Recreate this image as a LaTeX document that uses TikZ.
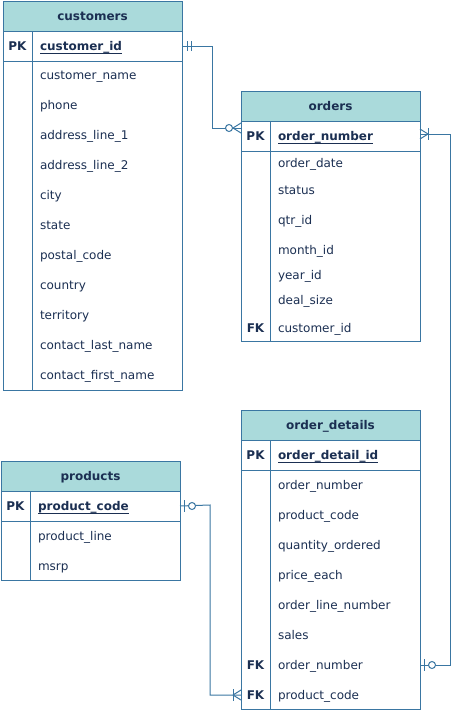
\documentclass[tikz,border=0pt]{standalone}
\usepackage{fontspec}
\setmainfont{DejaVu Sans}
\definecolor{edgeblue}{HTML}{3A76A2}
\definecolor{headfill}{HTML}{AADADB}
\definecolor{ink}{HTML}{1B2F52}
\begin{document}
\begin{tikzpicture}[x=1pt,y=-1pt,
  every node/.style={inner sep=0pt, outer sep=0pt, text=ink},
  headbox/.style={draw=edgeblue, fill=headfill, line width=1pt},
  headtxt/.style={anchor=base, font=\fontsize{12}{14}\selectfont\bfseries},
  rowbox/.style={draw=edgeblue, fill=white, line width=1pt},
  keytxt/.style={anchor=base, font=\fontsize{12}{14}\selectfont\bfseries},
  pktxt/.style={anchor=base west, font=\fontsize{12}{14}\selectfont\bfseries},
  fieldtxt/.style={anchor=base west, font=\fontsize{12}{14}\selectfont},
  keyline/.style={draw=ink, line width=1.1pt},
  divider/.style={draw=edgeblue, line width=1pt},
  link/.style={draw=edgeblue, line width=1pt},
  ringmark/.style={draw=edgeblue, line width=1pt, fill=white}
]
\useasboundingbox (0,0) rectangle (461,712);

% ---------- customers ----------
\node[headbox, minimum width=179pt, minimum height=30pt] (cust-head) at (92.5,16) {};
\node[headtxt] (cust-title) at (92.5,20.3) {customers};
\node[rowbox, minimum width=179pt, minimum height=30pt] (cust-pkrow) at (92.5,46) {};
\node[rowbox, minimum width=179pt, minimum height=329pt] (cust-body) at (92.5,225.5) {};
\draw[divider] (32,31) -- (32,390);
\node[keytxt] (cust-pk) at (17.5,50.3) {PK};
\node[pktxt] (cust-id) at (40,50.3) {customer\_id};
\draw[keyline] ([yshift=-2.8pt]cust-id.base west) -- ([yshift=-2.8pt]cust-id.base east);
\foreach \f/\y [count=\i] in {customer\_name/75, phone/105, address\_line\_1/135,
  address\_line\_2/165, city/195, state/225, postal\_code/255, country/285,
  territory/315, contact\_last\_name/345, contact\_first\_name/375}
  \node[fieldtxt] (cust-f\i) at (40,\y+4.3) {\f};

% ---------- orders ----------
\node[headbox, minimum width=179pt, minimum height=30pt] (ord-head) at (330.5,106) {};
\node[headtxt] (ord-title) at (330.5,110.3) {orders};
\node[rowbox, minimum width=179pt, minimum height=30pt] (ord-pkrow) at (330.5,136) {};
\node[rowbox, minimum width=179pt, minimum height=190pt] (ord-body) at (330.5,246) {};
\draw[divider] (270,121) -- (270,341);
\node[keytxt] (ord-pk) at (255.5,140.3) {PK};
\node[pktxt] (ord-id) at (278,140.3) {order\_number};
\draw[keyline] ([yshift=-2.8pt]ord-id.base west) -- ([yshift=-2.8pt]ord-id.base east);
\foreach \f/\y [count=\i] in {order\_date/163, status/190, qtr\_id/220, month\_id/250,
  year\_id/275, deal\_size/300, customer\_id/328}
  \node[fieldtxt] (ord-f\i) at (278,\y+4.3) {\f};
\node[keytxt] (ord-fk) at (255.5,332.3) {FK};

% ---------- order_details ----------
\node[headbox, minimum width=179pt, minimum height=30pt] (det-head) at (330.5,425) {};
\node[headtxt] (det-title) at (330.5,429.3) {order\_details};
\node[rowbox, minimum width=179pt, minimum height=30pt] (det-pkrow) at (330.5,455) {};
\node[rowbox, minimum width=179pt, minimum height=239pt] (det-body) at (330.5,589.5) {};
\draw[divider] (270,440) -- (270,709);
\node[keytxt] (det-pk) at (255.5,459.3) {PK};
\node[pktxt] (det-id) at (278,459.3) {order\_detail\_id};
\draw[keyline] ([yshift=-2.8pt]det-id.base west) -- ([yshift=-2.8pt]det-id.base east);
\foreach \f/\y [count=\i] in {order\_number/485, product\_code/515, quantity\_ordered/545,
  price\_each/575, order\_line\_number/605, sales/635, order\_number/665, product\_code/695}
  \node[fieldtxt] (det-f\i) at (278,\y+4.3) {\f};
\node[keytxt] (det-fk1) at (255.5,669.3) {FK};
\node[keytxt] (det-fk2) at (255.5,699.3) {FK};

% ---------- products ----------
\node[headbox, minimum width=179pt, minimum height=30pt] (prod-head) at (90.5,476) {};
\node[headtxt] (prod-title) at (90.5,480.3) {products};
\node[rowbox, minimum width=179pt, minimum height=30pt] (prod-pkrow) at (90.5,506) {};
\node[rowbox, minimum width=179pt, minimum height=59pt] (prod-body) at (90.5,550.5) {};
\draw[divider] (30,491) -- (30,580);
\node[keytxt] (prod-pk) at (15.5,510.3) {PK};
\node[pktxt] (prod-id) at (38,510.3) {product\_code};
\draw[keyline] ([yshift=-2.8pt]prod-id.base west) -- ([yshift=-2.8pt]prod-id.base east);
\node[fieldtxt] (prod-f1) at (38,540.3) {product\_line};
\node[fieldtxt] (prod-f2) at (38,570.3) {msrp};

% ---------- relationship end points ----------
\coordinate (c1a) at (cust-pkrow.east);
\coordinate (c1b) at (241,128);
\coordinate (c2a) at (420,134);
\coordinate (c2b) at (420,665);
\coordinate (c3a) at (prod-pkrow.east);
\coordinate (c3b) at (241,695);

% customers (exactly one) -- orders (zero or many)
\draw[link] (c1a) -- (212,46) -- (212,128) -- (c1b);
\draw[link] ([xshift=5pt]c1a) ++(0,-5) -- ++(0,10);
\draw[link] ([xshift=9pt]c1a) ++(0,-5) -- ++(0,10);
\draw[link] ([xshift=-8pt]c1b) -- ([yshift=-5pt]c1b);
\draw[link] ([xshift=-8pt]c1b) -- ([yshift=5pt]c1b);
\draw[ringmark] ([xshift=-12pt]c1b) circle (3.5);

% orders (one or many) -- order_details (zero or one)
\draw[link] (c2a) -- (450,134) -- (450,665) -- (c2b);
\draw[link] ([xshift=8pt]c2a) -- ([yshift=-5pt]c2a);
\draw[link] ([xshift=8pt]c2a) -- ([yshift=5pt]c2a);
\draw[link] ([xshift=8pt]c2a) ++(0,-6) -- ++(0,12);
\draw[link] ([xshift=4pt]c2b) ++(0,-6) -- ++(0,12);
\draw[ringmark] ([xshift=12pt]c2b) circle (3.5);

% products (zero or one) -- order_details (one or many)
\draw[link] (c3a) -- (210,505) -- (210,695) -- (c3b);
\draw[link] ([xshift=4pt]c3a) ++(0,-6) -- ++(0,12);
\draw[ringmark] ([xshift=12pt]c3a) circle (3.5);
\draw[link] ([xshift=-8pt]c3b) -- ([yshift=-5pt]c3b);
\draw[link] ([xshift=-8pt]c3b) -- ([yshift=5pt]c3b);
\draw[link] ([xshift=-8pt]c3b) ++(0,-6) -- ++(0,12);
\end{tikzpicture}
\end{document}
